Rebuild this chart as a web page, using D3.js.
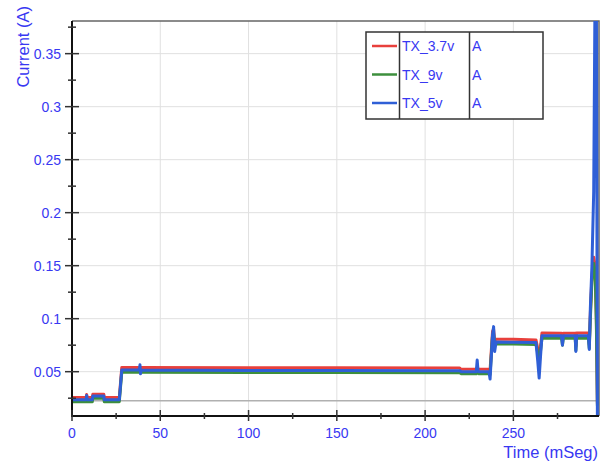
<!DOCTYPE html>
<html>
<head>
<meta charset="utf-8">
<script src="https://cdn.jsdelivr.net/npm/d3@7"></script>
<style>
  body { margin: 0; background: #fff; }
  text { font-family: "Liberation Sans", Arial, sans-serif; }
</style>
</head>
<body>
<div id="main"></div>
<script>
// time (mSeg), shared by the three series
var times = [0, 8, 8.3, 8.6, 11.5, 11.8, 18, 18.3, 26.8, 28.2, 38.2, 38.5, 38.8, 39.2,
  100, 150, 219.5, 220.5, 229, 229.5, 230, 230.5, 236.2, 236.8, 238.2, 238.8, 239.4,
  240.2, 250, 262.8, 263.8, 264.6, 265.4, 266.2, 277.3, 277.8, 278.3, 285, 285.4,
  285.8, 292.5, 293, 293.6, 294.5, 295.5, 296.3, 297, 297.6, 298];

var tx37 = [0.0256, 0.0256, 0.0285, 0.0256, 0.0256, 0.0288, 0.0288, 0.0256, 0.0256,
  0.0540, 0.0540, 0.0545, 0.0538, 0.0540, 0.0536, 0.0536, 0.0534, 0.0522, 0.0522,
  0.0540, 0.0530, 0.0522, 0.0522, 0.0515, 0.0880, 0.0900, 0.0790, 0.0805, 0.0805,
  0.0800, 0.0720, 0.0650, 0.0740, 0.0865, 0.0862, 0.0790, 0.0862, 0.0862, 0.0740,
  0.0865, 0.0865, 0.0760, 0.1050, 0.1400, 0.1580, 0.1500, 0.1000, 0.0200, 0.0200];

var tx9 = [0.0217, 0.0217, 0.0245, 0.0217, 0.0217, 0.0250, 0.0250, 0.0217, 0.0217,
  0.0495, 0.0495, 0.0500, 0.0493, 0.0495, 0.0492, 0.0492, 0.0490, 0.0480, 0.0480,
  0.0500, 0.0490, 0.0480, 0.0480, 0.0472, 0.0840, 0.0860, 0.0750, 0.0760, 0.0760,
  0.0757, 0.0680, 0.0610, 0.0700, 0.0815, 0.0815, 0.0750, 0.0815, 0.0815, 0.0700,
  0.0815, 0.0815, 0.0720, 0.1000, 0.1350, 0.1520, 0.1450, 0.0950, 0.0180, 0.0180];

var tx5 = [0.0236, 0.0236, 0.0275, 0.0236, 0.0236, 0.0270, 0.0270, 0.0236, 0.0236,
  0.0516, 0.0516, 0.0565, 0.0480, 0.0516, 0.0512, 0.0512, 0.0510, 0.0500, 0.0500,
  0.0610, 0.0505, 0.0500, 0.0500, 0.0430, 0.0850, 0.0925, 0.0690, 0.0780, 0.0778,
  0.0775, 0.0600, 0.0440, 0.0650, 0.0840, 0.0840, 0.0750, 0.0840, 0.0840, 0.0690,
  0.0840, 0.0840, 0.0710, 0.1100, 0.1500, 0.2200, 0.4200, 0.4200, 0.0000, 0.0000];

var seriesNames = ["TX_3.7v", "TX_9v", "TX_5v"];
var seriesColors = ["#e8403c", "#3d8f3d", "#2f5fd6"];
var seriesUnits = ["A", "A", "A"];

var xMajor = [0, 50, 100, 150, 200, 250];
var xMinor = [25, 75, 125, 175, 225, 275];
var yMajor = [0.05, 0.1, 0.15, 0.2, 0.25, 0.3, 0.35];
var yMinor = [0.025, 0.075, 0.125, 0.175, 0.225, 0.275, 0.325, 0.375];
var baseline = 0.0225;

var W = 605, H = 463;
var pLeft = 72, pRight = 599, pTop = 21, pBottom = 416;
var blue = "#3838f2";

var svg = d3.select("#main").append("svg")
    .attr("width", W)
    .attr("height", H);

var x = d3.scaleLinear().domain([0, 298.5]).range([pLeft, pRight]);
var y = d3.scaleLinear().domain([0.0082, 0.3808]).range([pBottom, pTop]);

// grid
svg.append("g").selectAll("line")
    .data(xMajor.filter(function(d) { return d > 0; }))
    .enter().append("line")
    .attr("x1", x).attr("x2", x)
    .attr("y1", pTop).attr("y2", pBottom)
    .attr("stroke", "#e0e0e0");
svg.append("g").selectAll("line")
    .data(yMajor)
    .enter().append("line")
    .attr("x1", pLeft).attr("x2", pRight)
    .attr("y1", y).attr("y2", y)
    .attr("stroke", "#e0e0e0");

// frame top / right
svg.append("path")
    .attr("d", "M" + pLeft + "," + pTop + "H" + pRight + "V" + pBottom)
    .attr("fill", "none")
    .attr("stroke", "#666")
    .attr("stroke-width", 1.5);

// gray reference line
svg.append("line")
    .attr("x1", pLeft).attr("x2", pRight)
    .attr("y1", y(baseline)).attr("y2", y(baseline))
    .attr("stroke", "#b0b0b0")
    .attr("stroke-width", 1.5);

// series
svg.append("clipPath").attr("id", "clip")
  .append("rect")
    .attr("x", pLeft).attr("y", pTop)
    .attr("width", pRight - pLeft).attr("height", pBottom - pTop);

var line = d3.line()
    .x(function(d, i) { return x(times[i]); })
    .y(function(d) { return y(d); });

var plot = svg.append("g").attr("clip-path", "url(#clip)");
[tx37, tx9, tx5].forEach(function(vals, k) {
  plot.append("path")
      .attr("d", line(vals))
      .attr("fill", "none")
      .attr("stroke", seriesColors[k])
      .attr("stroke-width", 3)
      .attr("stroke-linejoin", "round");
});

// axes
svg.append("line")
    .attr("x1", pLeft).attr("x2", pLeft)
    .attr("y1", pTop).attr("y2", pBottom + 1)
    .attr("stroke", "#111").attr("stroke-width", 2);
svg.append("line")
    .attr("x1", pLeft - 1).attr("x2", pRight)
    .attr("y1", pBottom).attr("y2", pBottom)
    .attr("stroke", "#111").attr("stroke-width", 2);

svg.append("g").selectAll("line")
    .data(yMajor)
    .enter().append("line")
    .attr("x1", pLeft - 7).attr("x2", pLeft + 7)
    .attr("y1", y).attr("y2", y)
    .attr("stroke", "#333").attr("stroke-width", 1.5);
svg.append("g").selectAll("line")
    .data(yMinor)
    .enter().append("line")
    .attr("x1", pLeft - 4).attr("x2", pLeft + 4)
    .attr("y1", y).attr("y2", y)
    .attr("stroke", "#333").attr("stroke-width", 1.5);
svg.append("g").selectAll("line")
    .data(xMajor)
    .enter().append("line")
    .attr("x1", x).attr("x2", x)
    .attr("y1", pBottom - 6).attr("y2", pBottom + 5)
    .attr("stroke", "#333").attr("stroke-width", 1.5);
svg.append("g").selectAll("line")
    .data(xMinor)
    .enter().append("line")
    .attr("x1", x).attr("x2", x)
    .attr("y1", pBottom - 3).attr("y2", pBottom + 3)
    .attr("stroke", "#333").attr("stroke-width", 1.5);

// tick labels
svg.append("g").selectAll("text")
    .data(yMajor)
    .enter().append("text")
    .attr("x", 61)
    .attr("y", function(d) { return y(d) + 5; })
    .attr("text-anchor", "end")
    .attr("font-size", 14)
    .attr("fill", blue)
    .text(function(d) { return String(d); });
svg.append("g").selectAll("text")
    .data(xMajor)
    .enter().append("text")
    .attr("x", x)
    .attr("y", 438)
    .attr("text-anchor", "middle")
    .attr("font-size", 14)
    .attr("fill", blue)
    .text(function(d) { return d; });

// axis titles
svg.append("text")
    .attr("transform", "translate(29,6) rotate(-90)")
    .attr("text-anchor", "end")
    .attr("font-size", 16.5)
    .attr("fill", blue)
    .text("Current (A)");
svg.append("text")
    .attr("x", 598)
    .attr("y", 458)
    .attr("text-anchor", "end")
    .attr("font-size", 16.5)
    .attr("fill", blue)
    .text("Time (mSeg)");

// legend
var lg = svg.append("g");
lg.append("rect")
    .attr("x", 366).attr("y", 32)
    .attr("width", 177).attr("height", 87)
    .attr("fill", "#fff")
    .attr("stroke", "#333").attr("stroke-width", 1.5);
[399.5, 469.5].forEach(function(cx) {
  lg.append("line")
      .attr("x1", cx).attr("x2", cx)
      .attr("y1", 32).attr("y2", 119)
      .attr("stroke", "#333").attr("stroke-width", 1.5);
});
seriesNames.forEach(function(name, i) {
  var ry = 46 + i * 28.5;
  lg.append("line")
      .attr("x1", 372).attr("x2", 397)
      .attr("y1", ry).attr("y2", ry)
      .attr("stroke", seriesColors[i]).attr("stroke-width", 2.5);
  lg.append("text")
      .attr("x", 402).attr("y", ry + 5)
      .attr("font-size", 14)
      .attr("fill", blue)
      .text(name);
  lg.append("text")
      .attr("x", 472).attr("y", ry + 5)
      .attr("font-size", 14)
      .attr("fill", blue)
      .text(seriesUnits[i]);
});
</script>
</body>
</html>
